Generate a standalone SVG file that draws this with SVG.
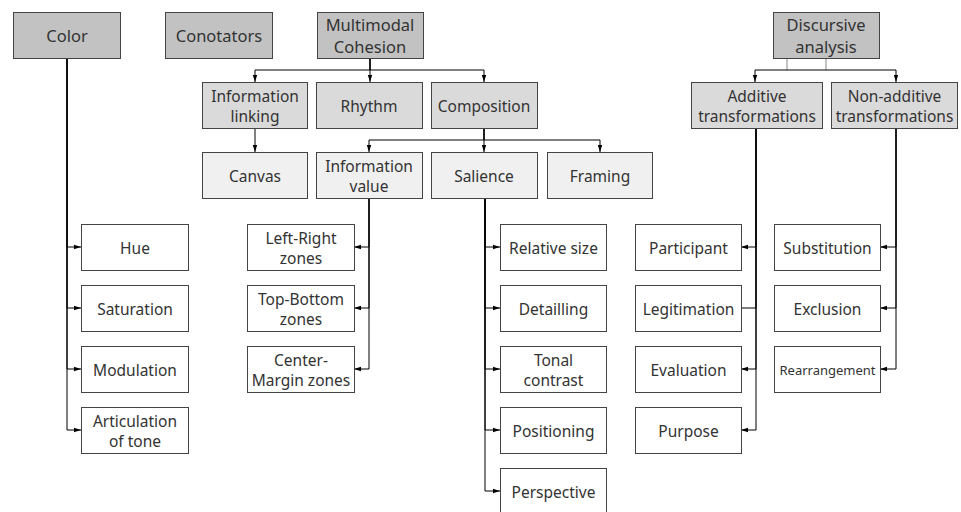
<svg xmlns="http://www.w3.org/2000/svg" width="961" height="512" viewBox="0 0 961 512">
<defs>
<marker id="ah" markerUnits="userSpaceOnUse" markerWidth="8" markerHeight="6" refX="7" refY="3" orient="auto">
<path d="M0,0.8 L7,3 L0,5.2 z" fill="#000"/>
</marker>
</defs>
<style>
rect{stroke:#444;stroke-width:1}
.l1{fill:#c2c2c2}
.l2{fill:#dadada}
.l3{fill:#f0f0f0}
.lf{fill:#fff}
text{font-family:"Noto Sans","Open Sans","DejaVu Sans",sans-serif;font-size:15.5px;fill:#333;text-anchor:middle;dominant-baseline:central}
.big{font-size:16.5px}
.c path{fill:none;stroke:#000;stroke-width:1}
.c .a{marker-end:url(#ah)}
</style>
<rect width="961" height="512" fill="#fff" style="stroke:none"/>
<g class="c" id="connectors">
<path class="a" d="M67,58 V247 H81"/>
<path class="a" d="M67,58 V308 H81"/>
<path class="a" d="M67,58 V369 H81"/>
<path class="a" d="M67,58 V430 H81"/>
<path class="a" d="M370,58 V70 H255 V82"/>
<path class="a" d="M370,58 V82"/>
<path class="a" d="M370,58 V70 H484 V82"/>
<path class="a" d="M255,128 V152"/>
<path class="a" d="M484,128 V140 H369 V152"/>
<path class="a" d="M484,128 V152"/>
<path class="a" d="M484,128 V140 H600 V152"/>
<path class="a" d="M369,198 V247 H354"/>
<path class="a" d="M369,198 V308 H354"/>
<path class="a" d="M369,198 V369 H354"/>
<path class="a" d="M485,198 V247 H500"/>
<path class="a" d="M485,198 V308 H500"/>
<path class="a" d="M485,198 V369 H500"/>
<path class="a" d="M485,198 V430 H500"/>
<path class="a" d="M485,198 V491 H500"/>
<path d="M787,58 V70" style="stroke:#888"/>
<path d="M826,58 V70" style="stroke:#888"/>
<path class="a" d="M787,70 H755 V82"/>
<path class="a" d="M787,70 H896 V82"/>
<path class="a" d="M756,128 V247 H741"/>
<path d="M756,128 V308 H741"/>
<path class="a" d="M756,128 V369 H741"/>
<path class="a" d="M756,128 V430 H741"/>
<path class="a" d="M896,128 V247 H880"/>
<path class="a" d="M896,128 V308 H880"/>
<path class="a" d="M896,128 V369 H880"/>
</g>
<g id="color"><rect class="l1" x="13.5" y="12.5" width="107" height="46"/><text class="big" x="67" y="35.5">Color</text></g>
<g id="conotators"><rect class="l1" x="165.5" y="12.5" width="107" height="46"/><text class="big" x="219" y="35.5">Conotators</text></g>
<g id="multimodal"><rect class="l1" x="317.5" y="12.5" width="106" height="46"/><text class="big" x="370" y="24.5">Multimodal</text><text class="big" x="370" y="46.5">Cohesion</text></g>
<g id="discursive"><rect class="l1" x="773.5" y="12.5" width="106" height="46"/><text class="big" x="826" y="24.5">Discursive</text><text class="big" x="826" y="46.5">analysis</text></g>
<g id="infolinking"><rect class="l2" x="202.5" y="82.5" width="105" height="46"/><text x="255" y="95.5">Information</text><text x="255" y="115.5">linking</text></g>
<g id="rhythm"><rect class="l2" x="316.5" y="82.5" width="106" height="46"/><text x="369" y="105.5">Rhythm</text></g>
<g id="composition"><rect class="l2" x="431.5" y="82.5" width="106" height="46"/><text x="484" y="105.5">Composition</text></g>
<g id="additive"><rect class="l2" x="691.5" y="82.5" width="131" height="46"/><text x="757" y="95.5">Additive</text><text x="757" y="115.5">transformations</text></g>
<g id="nonadditive"><rect class="l2" x="831.5" y="82.5" width="126" height="46"/><text x="894.5" y="95.5">Non-additive</text><text x="894.5" y="115.5">transformations</text></g>
<g id="canvas"><rect class="l3" x="202.5" y="152.5" width="105" height="46"/><text x="255" y="175.5">Canvas</text></g>
<g id="infovalue"><rect class="l3" x="316.5" y="152.5" width="106" height="46"/><text x="369" y="165.5">Information</text><text x="369" y="185.5">value</text></g>
<g id="salience"><rect class="l3" x="431.5" y="152.5" width="106" height="46"/><text x="484" y="175.5">Salience</text></g>
<g id="framing"><rect class="l3" x="547.5" y="152.5" width="105" height="46"/><text x="600" y="175.5">Framing</text></g>
<g id="hue"><rect class="lf" x="81.5" y="224.5" width="107" height="46"/><text x="135" y="247.5">Hue</text></g>
<g id="saturation"><rect class="lf" x="81.5" y="285.5" width="107" height="46"/><text x="135" y="308.5">Saturation</text></g>
<g id="modulation"><rect class="lf" x="81.5" y="346.5" width="107" height="46"/><text x="135" y="369.5">Modulation</text></g>
<g id="articulation"><rect class="lf" x="81.5" y="407.5" width="107" height="46"/><text x="135" y="420.5">Articulation</text><text x="135" y="440.5">of tone</text></g>
<g id="leftright"><rect class="lf" x="247.5" y="224.5" width="107" height="46"/><text x="301" y="237.5">Left-Right</text><text x="301" y="257.5">zones</text></g>
<g id="topbottom"><rect class="lf" x="247.5" y="285.5" width="107" height="46"/><text x="301" y="298.5">Top-Bottom</text><text x="301" y="318.5">zones</text></g>
<g id="centermargin"><rect class="lf" x="247.5" y="346.5" width="107" height="46"/><text x="301" y="359.5">Center-</text><text x="301" y="379.5">Margin zones</text></g>
<g id="relsize"><rect class="lf" x="500.5" y="224.5" width="106" height="46"/><text x="553.5" y="247.5">Relative size</text></g>
<g id="detailling"><rect class="lf" x="500.5" y="285.5" width="106" height="46"/><text x="553.5" y="308.5">Detailling</text></g>
<g id="tonal"><rect class="lf" x="500.5" y="346.5" width="106" height="46"/><text x="553.5" y="359.5">Tonal</text><text x="553.5" y="379.5">contrast</text></g>
<g id="positioning"><rect class="lf" x="500.5" y="407.5" width="106" height="46"/><text x="553.5" y="430.5">Positioning</text></g>
<g id="perspective"><rect class="lf" x="500.5" y="468.5" width="106" height="46"/><text x="553.5" y="491.5">Perspective</text></g>
<g id="participant"><rect class="lf" x="635.5" y="224.5" width="106" height="46"/><text x="688.5" y="247.5">Participant</text></g>
<g id="legitimation"><rect class="lf" x="635.5" y="285.5" width="106" height="46"/><text x="688.5" y="308.5">Legitimation</text></g>
<g id="evaluation"><rect class="lf" x="635.5" y="346.5" width="106" height="46"/><text x="688.5" y="369.5">Evaluation</text></g>
<g id="purpose"><rect class="lf" x="635.5" y="407.5" width="106" height="46"/><text x="688.5" y="430.5">Purpose</text></g>
<g id="substitution"><rect class="lf" x="774.5" y="224.5" width="106" height="46"/><text x="827.5" y="247.5">Substitution</text></g>
<g id="exclusion"><rect class="lf" x="774.5" y="285.5" width="106" height="46"/><text x="827.5" y="308.5">Exclusion</text></g>
<g id="rearrangement"><rect class="lf" x="774.5" y="346.5" width="106" height="46"/><text x="827.5" y="369.5" style="font-size:13px">Rearrangement</text></g>
</svg>
